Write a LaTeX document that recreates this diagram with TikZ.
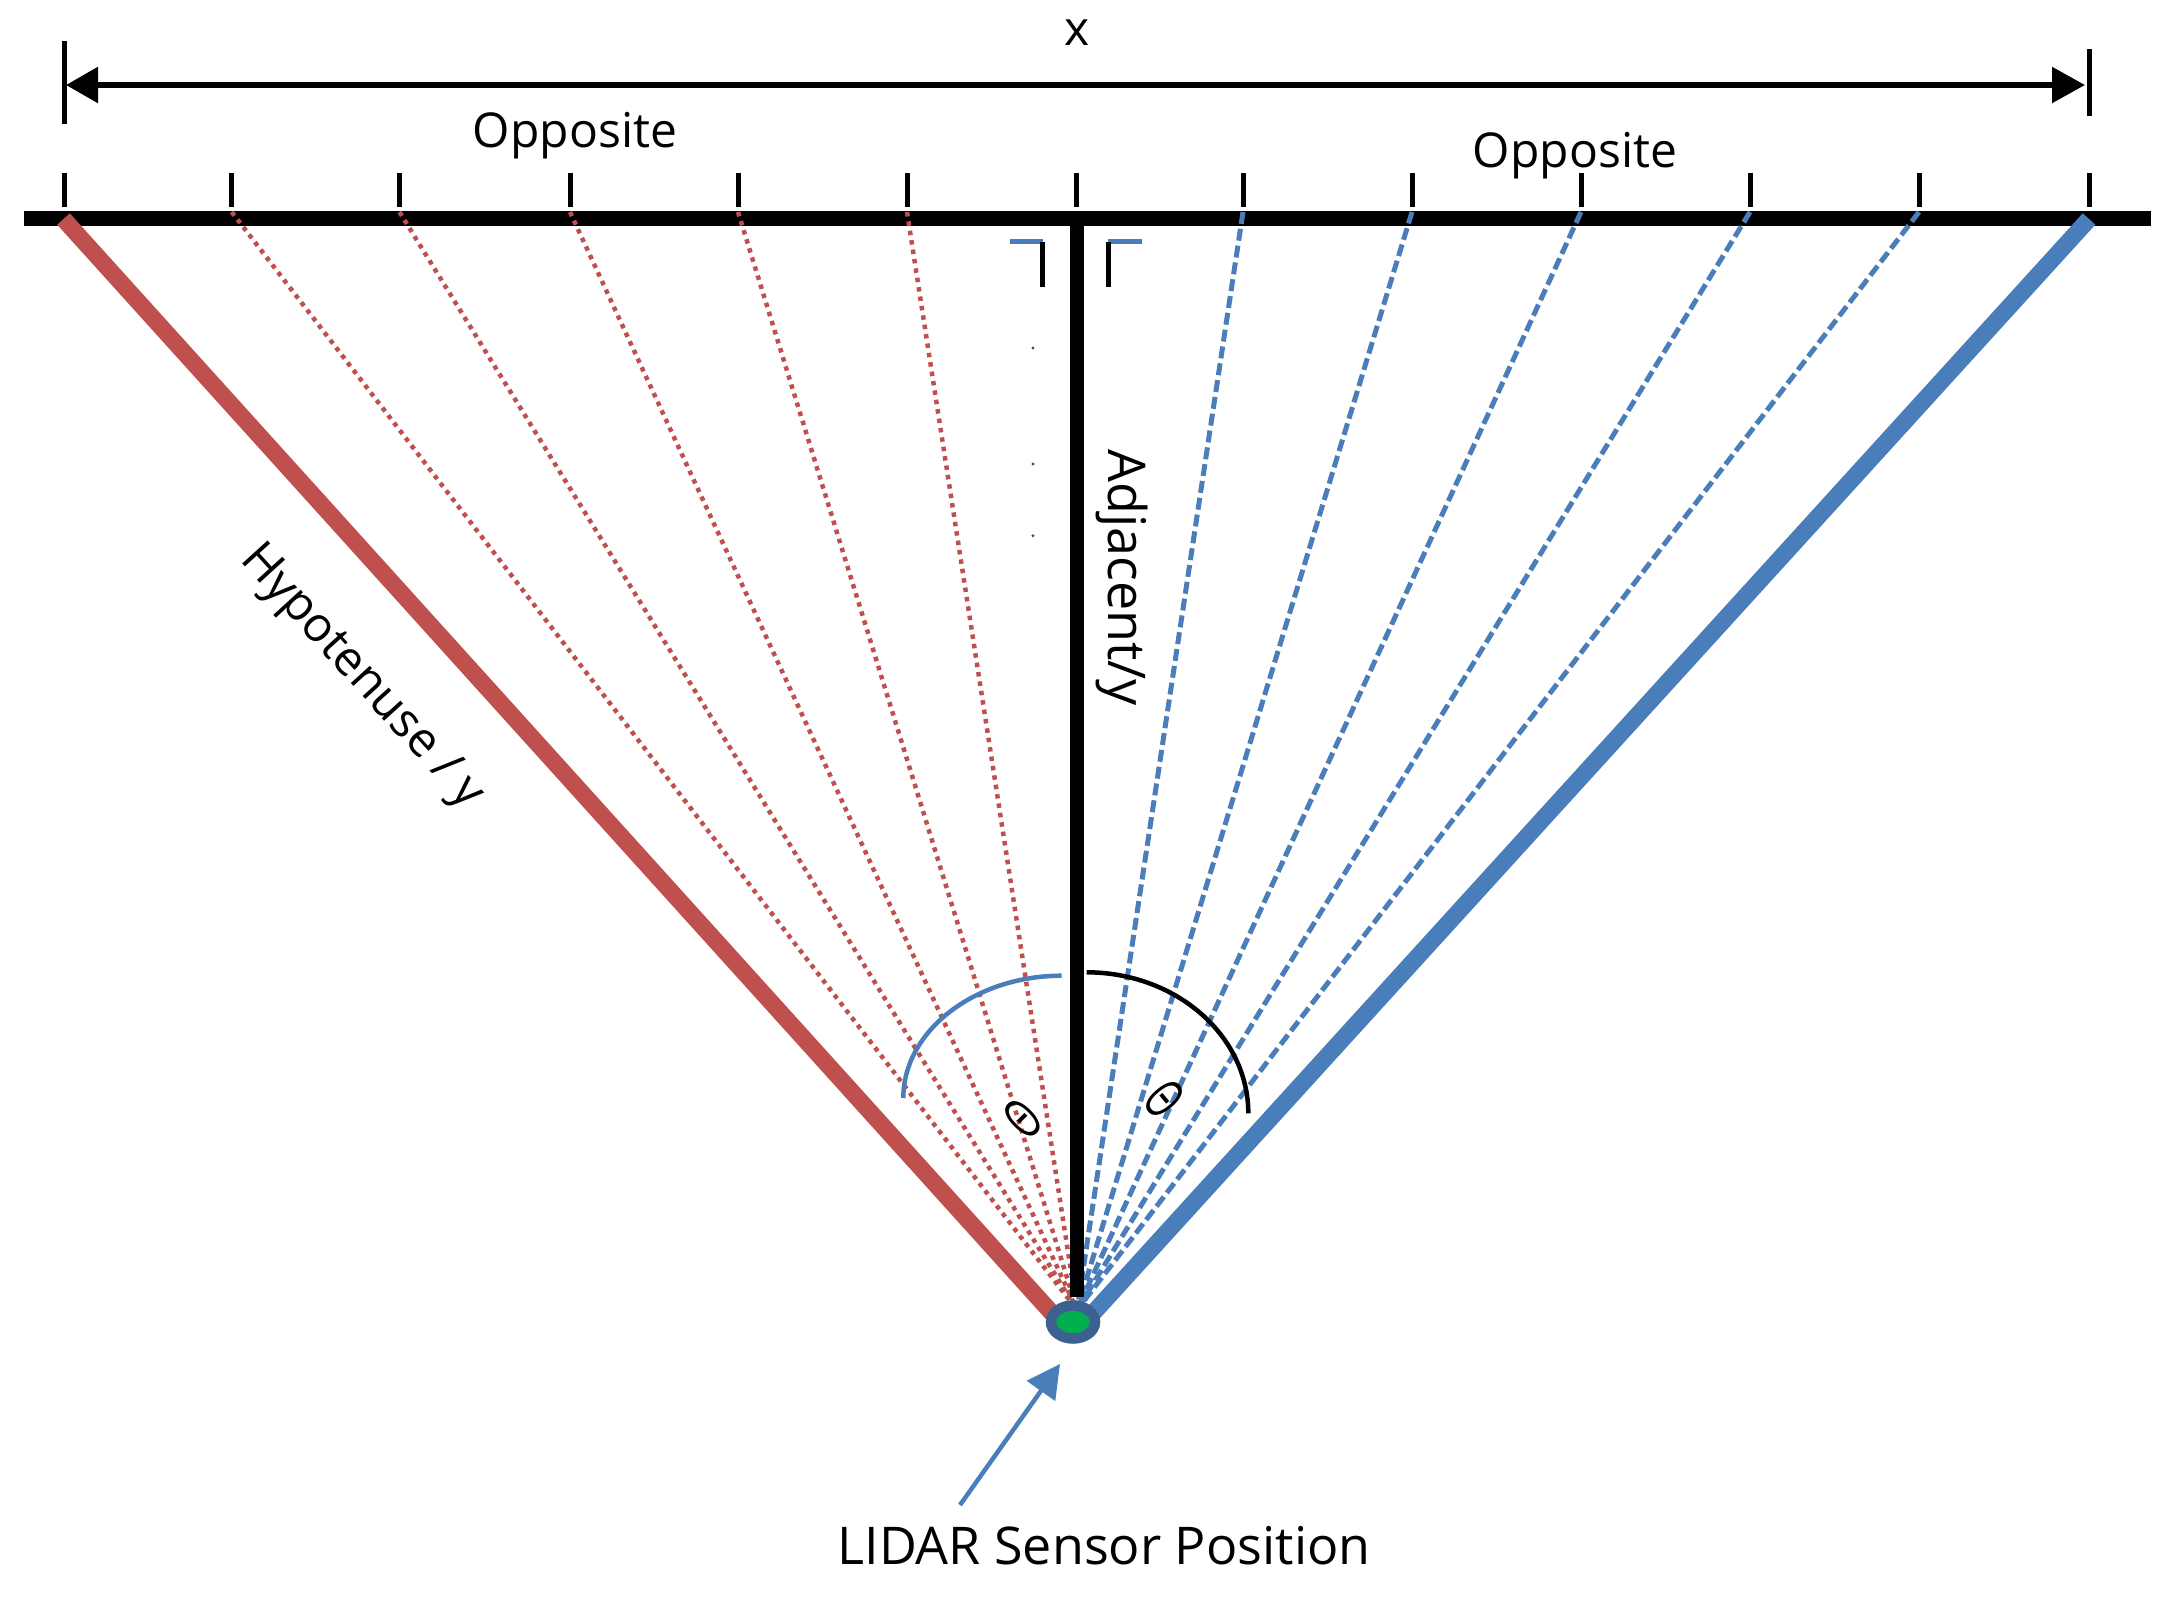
\documentclass[tikz,border=0pt]{standalone}
\usepackage{graphicx}
\usepackage{fontspec}
\setmainfont{Open Sans}
\usetikzlibrary{arrows.meta,shapes.geometric}
\definecolor{redline}{HTML}{C0504D}
\definecolor{blueline}{HTML}{4A7EBB}
\definecolor{sensorblue}{HTML}{3C6090}
\definecolor{sensorgreen}{HTML}{00B050}
\begin{document}
\begin{tikzpicture}[x=1pt,y=-1pt,
    textlabel/.style={inner sep=0pt,font=\fontsize{48}{52}\selectfont},
    biglabel/.style={inner sep=0pt,font=\fontsize{52}{56}\selectfont},
    thetalabel/.style={inner sep=0pt,font=\fontsize{56}{60}\selectfont},
    tickbar/.style={line width=5pt},
    redray/.style={redline,line width=4.5pt,dash pattern=on 4.5pt off 5pt},
    blueray/.style={blueline,line width=5pt,dash pattern=on 12pt off 5pt},
    rightmark/.style={line width=5pt}]
  \useasboundingbox (0,0) rectangle (2180,1607);
  \coordinate (beamL) at (24,218.5);
  \coordinate (beamR) at (2151,218.5);
  \coordinate (apex) at (1077,1310);
  \coordinate (foot) at (1077,1297);
  \draw[line width=14.5pt] (beamL) -- (beamR);
  \foreach \i/\x in {0/64.3,1/231.7,2/399.5,3/570,4/738,5/907,6/1076,7/1243,8/1412,9/1581,10/1750,11/1919,12/2089.3} {
    \coordinate (tick\i) at (\x,173);
    \coordinate (low\i) at (\x,207);
    \coordinate (end\i) at (\x,212);
    \draw[tickbar] (tick\i) -- (low\i);
  }
  \foreach \i in {1,...,5} \draw[redray] (end\i) -- (apex);
  \foreach \i in {7,...,11} \draw[blueray] (end\i) -- (apex);
  \coordinate (top) at (1077,218);
  \draw[line width=14pt] (top) -- (foot);
  \coordinate (redtop) at (63.5,219);
  \coordinate (bluetop) at (2089,219);
  \coordinate (redend) at (1060,1322);
  \coordinate (blueend) at (1085,1322);
  \draw[redline,line width=17pt] (redtop) -- (redend);
  \draw[blueline,line width=17pt] (bluetop) -- (blueend);
  \node[ellipse,fill=sensorgreen,draw=sensorblue,line width=10.5pt,minimum width=44pt,minimum height=33pt,inner sep=0pt] (sensor) at (1073,1322) {};

  \coordinate (capLa) at (64.3,41);
  \coordinate (capLb) at (64.3,124);
  \coordinate (capRa) at (2089.3,49);
  \coordinate (capRb) at (2089.3,116);
  \draw[tickbar] (capLa) -- (capLb);
  \draw[tickbar] (capRa) -- (capRb);
  \coordinate (tipL) at (66,85);
  \coordinate (tipR) at (2085,85);
  \draw[line width=5.5pt,{Triangle[length=32pt,width=35pt]}-{Triangle[length=33pt,width=35pt]}] (tipL) -- (tipR);

  \coordinate (markLa) at (1010,241.7);
  \coordinate (markLb) at (1042.7,241.7);
  \coordinate (markLc) at (1042.7,287);
  \coordinate (markRa) at (1141.7,241.7);
  \coordinate (markRb) at (1108,241.7);
  \coordinate (markRc) at (1108,287);
  \draw[blueline,rightmark] (markLa) -- (markLb);
  \draw[rightmark] (markLb) -- (markLc);
  \draw[blueline,rightmark] (markRa) -- (markRb);
  \draw[rightmark] (markRb) -- (markRc);
  \foreach \y in {348,464,535.7} \fill[black!70] (1033,\y) circle (1.6pt);

  \coordinate (arcLa) at (1061.7,975.7);
  \coordinate (arcLb) at (903.3,1098);
  \coordinate (arcRa) at (1086.7,972.3);
  \coordinate (arcRb) at (1248.3,1113.3);
  \draw[blueline,line width=4.5pt] (arcLa) .. controls (974.7,975.7) and (903.3,1031) .. (arcLb);
  \draw[line width=4.5pt] (arcRa) .. controls (1175.7,972.3) and (1248.3,1035.3) .. (arcRb);

  \node[textlabel] (spanlabel) at (1077,33) {x};
  \node[textlabel] (oppL) at (575,136) {Opposite};
  \node[textlabel] (oppR) at (1575,156) {Opposite};
  \node[biglabel,rotate=-90] (adj) at (1122,578) {Adjacent/y};
  \node[textlabel,rotate=-47.7] (hyp) at (361,678) {Hypotenuse / y};
  \node[thetalabel,rotate=45] (thetaL) at (1023,1119) {\scalebox{.62}[1]{Θ}};
  \node[thetalabel,rotate=-50] (thetaR) at (1165,1099) {\scalebox{.62}[1]{Θ}};
  \node[biglabel] (lidar) at (1104,1546) {LIDAR Sensor Position};
  \coordinate (pointer) at (960,1505);
  \coordinate (pointertip) at (1060,1364);
  \draw[blueline,line width=4.5pt,-{Triangle[length=33pt,width=34pt]}] (pointer) -- (pointertip);
\end{tikzpicture}
\end{document}
